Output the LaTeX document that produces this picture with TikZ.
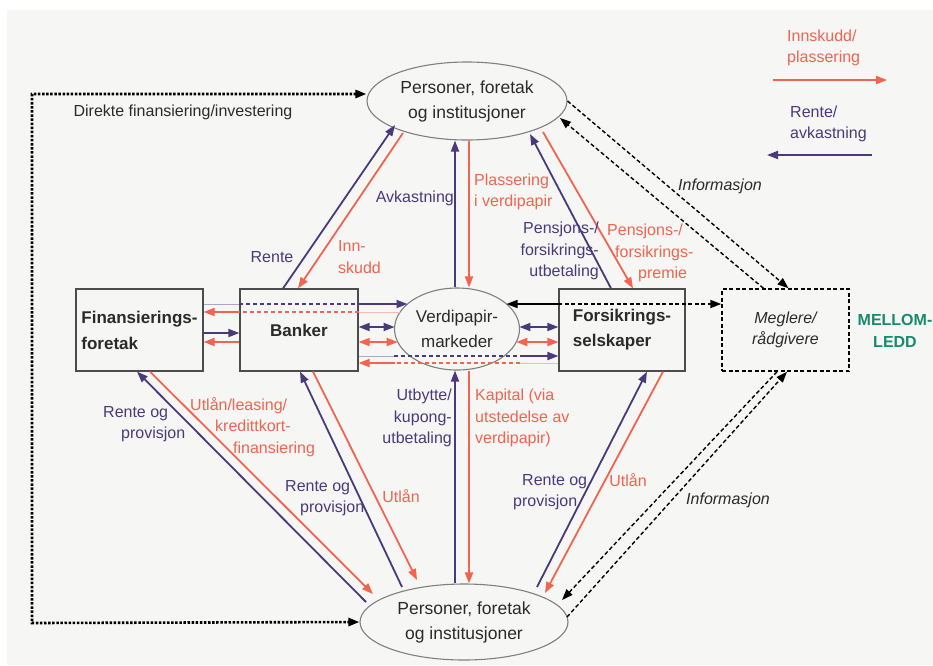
\documentclass[tikz,border=0pt]{standalone}
\usepackage{fontspec}
\setmainfont{Liberation Sans}
\usetikzlibrary{arrows.meta,calc,shapes.geometric}
\definecolor{pur}{HTML}{4A3A7C}
\definecolor{org}{HTML}{F06450}
\definecolor{grn}{HTML}{168C6E}
\definecolor{bgc}{HTML}{F6F6F4}
\definecolor{txt}{HTML}{2A2A2A}
\definecolor{edgec}{HTML}{7F7F7F}
\begin{document}
\begin{tikzpicture}[x=1pt,y=-1pt,
 tip/.style={-{Triangle[length=11pt,width=8pt]}},
 dtip/.style={{Triangle[length=11pt,width=8pt]}-{Triangle[length=11pt,width=8pt]}},
 pline/.style={draw=pur,line width=1.8pt},
 oline/.style={draw=org,line width=1.8pt},
 pthin/.style={draw=pur!45,line width=0.9pt},
 othin/.style={draw=org!45,line width=0.9pt},
 pdash/.style={draw=pur,line width=1.6pt,dash pattern=on 4pt off 3pt},
 odash/.style={draw=org,line width=1.6pt,dash pattern=on 4pt off 3pt},
 info/.style={draw=black,line width=1.4pt,dash pattern=on 4pt off 2.5pt},
 ell/.style={ellipse,draw=edgec,line width=1.1pt,inner sep=0pt,text=txt,align=center,font=\fontsize{17.5}{25}\selectfont},
 boxs/.style={rectangle,draw=black!70,line width=1.2pt,inner sep=0pt,text=txt,minimum height=82pt,font=\bfseries\fontsize{17}{26}\selectfont},
 lab/.style={inner sep=0pt,font=\fontsize{16}{21.5}\selectfont},
 plab/.style={lab,text=pur},
 olab/.style={lab,text=org},
 glab/.style={lab,text=txt},
]
\useasboundingbox (0,0) rectangle (933,665);
\fill[white] (0,0) rectangle (933,665);
\fill[bgc] (7,10) rectangle (933,665);

% nodes
\node[ell,minimum width=200pt,minimum height=78pt] (top) at (467,101) {Personer, foretak\\og institusjoner};
\node[ell,minimum width=208pt,minimum height=76pt] (bot) at (464,622) {Personer, foretak\\og institusjoner};
\node[ell,minimum width=125pt,minimum height=82pt,font=\fontsize{17}{25}\selectfont] (ver) at (457,329) {Verdipapir-\\markeder};
\node[boxs,minimum width=127pt,align=left] (fin) at (139.5,330) {Finansierings-\\foretak};
\node[boxs,minimum width=118pt] (bank) at (299,330) {Banker};
\node[boxs,minimum width=126pt,align=left,font=\bfseries\fontsize{17}{25}\selectfont] (fors) at (622,330) {Forsikrings-\\selskaper};
\node[rectangle,info,minimum width=127pt,minimum height=82pt,inner sep=0pt,text=txt,align=center,font=\itshape\fontsize{16}{21}\selectfont] (megl) at (785.5,330) {Meglere/\\rådgivere};
\node[inner sep=0pt,align=center,text=grn,font=\bfseries\fontsize{16}{22}\selectfont] (mellom) at (895,331) {MELLOM-\\LEDD};

% legend
\node[olab,anchor=west,align=left] (leg1) at (787,48) {Innskudd/\\plassering};
\node[plab,anchor=west,align=left] (leg2) at (790,124) {Rente/\\avkastning};
\coordinate (lgo1) at (773,80);
\coordinate (lgo2) at (887,80);
\coordinate (lgp1) at (872,155);
\coordinate (lgp2) at (767,155);
\draw[oline,tip] (lgo1) -- (lgo2);
\draw[pline,tip] (lgp1) -- (lgp2);

% direct financing dotted line
\coordinate (dc1) at (32,94);
\coordinate (dc2) at (32,623);
\draw[line width=2.6pt,dash pattern=on 2.5pt off 1.6pt,dtip] ([yshift=7pt]top.west) -- (dc1) -- (dc2) -- (bot.west);
\node[glab] (direkte) at (183,112) {Direkte finansiering/investering};

% top ellipse <-> Banker
\draw[pline,tip] ([xshift=-16pt]bank.north) -- ($(top)+(-72,24)$);
\draw[oline,tip] ($(top)+(-64,32)$) -- ([xshift=-1pt]bank.north);
\node[plab] (l1) at (272,257) {Rente};
\node[olab,anchor=west,align=left] (l2) at (338,257) {Inn-\\skudd};

% top ellipse <-> Verdipapirmarkeder
\draw[pline,tip] ([xshift=-2pt]ver.north) -- ([xshift=-2pt]ver.north |- top.south);
\draw[oline,tip] ([xshift=12pt]ver.north |- top.south) -- ([xshift=12pt]ver.north);
\node[plab,anchor=east] (l3) at (454,198) {Avkastning};
\node[olab,anchor=west,align=left] (l4) at (474,192) {Plassering\\i verdipapir};

% top ellipse <-> Forsikringsselskaper
\draw[pline,tip] ([xshift=-11pt]fors.north) -- ($(top)+(63,33)$);
\draw[oline,tip] ($(top)+(76,31)$) -- ([xshift=11pt]fors.north);
\node[plab,anchor=east,align=right] (l5) at (599,251) {Pensjons-/\\forsikrings-\\utbetaling};
\node[olab,anchor=west,align=left] (l6) at (607,253) {Pensjons-/\\\hspace*{8pt}forsikrings-\\\hspace*{31pt}premie};

% top ellipse <-> Meglere
\draw[info,tip] (top.east) -- ([xshift=3pt]megl.north);
\draw[info,tip] ([xshift=-22pt]megl.north) -- ($(top)+(93,17)$);
\node[glab,font=\itshape\fontsize{16}{21}\selectfont] (l7) at (720,186) {Informasjon};

% bottom ellipse <-> Finansieringsforetak
\draw[pline,tip] ($(bot)+(-98,-20)$) -- ([xshift=-2.5pt]fin.south);
\draw[oline,tip] ([xshift=10.5pt]fin.south) -- ($(bot)+(-91,-28)$);
\node[plab,anchor=west,align=left] (l8) at (103,424) {Rente og\\\hspace*{18pt}provisjon};
\node[olab,anchor=west,align=left] (l9) at (190,427) {Utlån/leasing/\\\hspace*{25pt}kredittkort-\\\hspace*{43pt}finansiering};

% bottom ellipse <-> Banker
\draw[pline,tip] ($(bot)+(-62,-35)$) -- ([xshift=1pt]bank.south);
\draw[oline,tip] ([xshift=14pt]bank.south) -- ($(bot)+(-47,-42)$);
\node[plab,anchor=west,align=left] (l10) at (285,498) {Rente og\\\hspace*{15pt}provisjon};
\node[olab] (l11) at (401,496) {Utlån};

% bottom ellipse <-> Verdipapirmarkeder
\draw[pline,tip] ([xshift=-2pt]ver.south |- bot.north) -- ([xshift=-2pt]ver.south);
\draw[oline,tip] ([xshift=12pt]ver.south) -- ([xshift=12pt]ver.south |- bot.north);
\node[plab,anchor=east,align=right] (l12) at (452,418) {Utbytte/\\kupong-\\utbetaling};
\node[olab,anchor=west,align=left] (l13) at (475,418) {Kapital (via\\utstedelse av\\verdipapir)};

% bottom ellipse <-> Forsikringsselskaper
\draw[pline,tip] ($(bot)+(73,-35)$) -- ([xshift=25pt]fors.south);
\draw[oline,tip] ([xshift=41pt]fors.south) -- ($(bot)+(81,-29)$);
\node[plab,anchor=west,align=left] (l14) at (513,492) {\hspace*{9pt}Rente og\\provisjon};
\node[olab] (l15) at (628,480) {Utlån};

% bottom ellipse <-> Meglere
\draw[info,tip] ([xshift=-8.5pt]megl.south) -- ($(bot)+(98,-22)$);
\draw[info,tip] ($(bot)+(103,-5)$) -- ([xshift=1.5pt]megl.south);
\node[glab,font=\itshape\fontsize{16}{21}\selectfont] (l16) at (728,500) {Informasjon};

% horizontal flows
% Finansieringsforetak -> Verdipapirmarkeder (through Banker)
\draw[pthin] ([yshift=26pt]fin.east) -- ([yshift=26pt]bank.west);
\draw[pdash] ([yshift=26pt]bank.west) -- ([yshift=26pt]bank.east);
\draw[pline,tip] ([yshift=26pt]bank.east) -- ($(ver)+(-49.5,-25)$);
% Verdipapirmarkeder -> Finansieringsforetak (through Banker)
\draw[othin] ($(ver)+(-57,-17)$) -- ([yshift=18pt]bank.east);
\draw[odash] ([yshift=18pt]bank.east) -- ([yshift=18pt]bank.west);
\draw[oline,tip] ([yshift=18pt]bank.west) -- ([yshift=18pt]fin.east);
% Finansieringsforetak <-> Banker
\draw[pline,tip] ([yshift=-3pt]fin.east) -- ([yshift=-3pt]bank.west);
\draw[oline,tip] ([yshift=-12pt]bank.west) -- ([yshift=-12pt]fin.east);
% Banker <-> Verdipapirmarkeder
\draw[pline,dtip] ([yshift=3pt]bank.east) -- ($(ver)+(-62.4,-2)$);
\draw[oline,dtip] ([yshift=-12pt]bank.east) -- ($(ver)+(-59.3,13)$);
% Verdipapirmarkeder <-> Forsikringsselskaper
\draw[pline,dtip] ($(ver)+(62.4,-2)$) -- ([yshift=3pt]fors.west);
\draw[oline,dtip] ($(ver)+(59.3,13)$) -- ([yshift=-12pt]fors.west);
% Banker -> Forsikringsselskaper (through Verdipapirmarkeder)
\coordinate (b1) at ([yshift=-26pt]bank.east);
\draw[pthin] (b1) -- (b1 -| ver.west);
\draw[pdash] (b1 -| ver.west) -- (b1 -| ver.east);
\draw[pline,tip] (b1 -| ver.east) -- ([yshift=-26pt]fors.west);
% Forsikringsselskaper -> Banker (through Verdipapirmarkeder)
\coordinate (f2) at ([yshift=-33pt]fors.west);
\draw[othin] (f2) -- (f2 -| ver.east);
\draw[odash] (f2 -| ver.east) -- (f2 -| ver.west);
\draw[oline,tip] (f2 -| ver.west) -- ([yshift=-33pt]bank.east);
% Verdipapirmarkeder <- Forsikringsselskaper -> Meglere
\coordinate (k1) at ([yshift=26pt]fors.west);
\draw[draw=black,line width=1.4pt,tip] (k1) -- ($(ver)+(49.5,-25)$);
\draw[info,tip] (k1) -- ([yshift=26pt]megl.west);
\end{tikzpicture}
\end{document}
